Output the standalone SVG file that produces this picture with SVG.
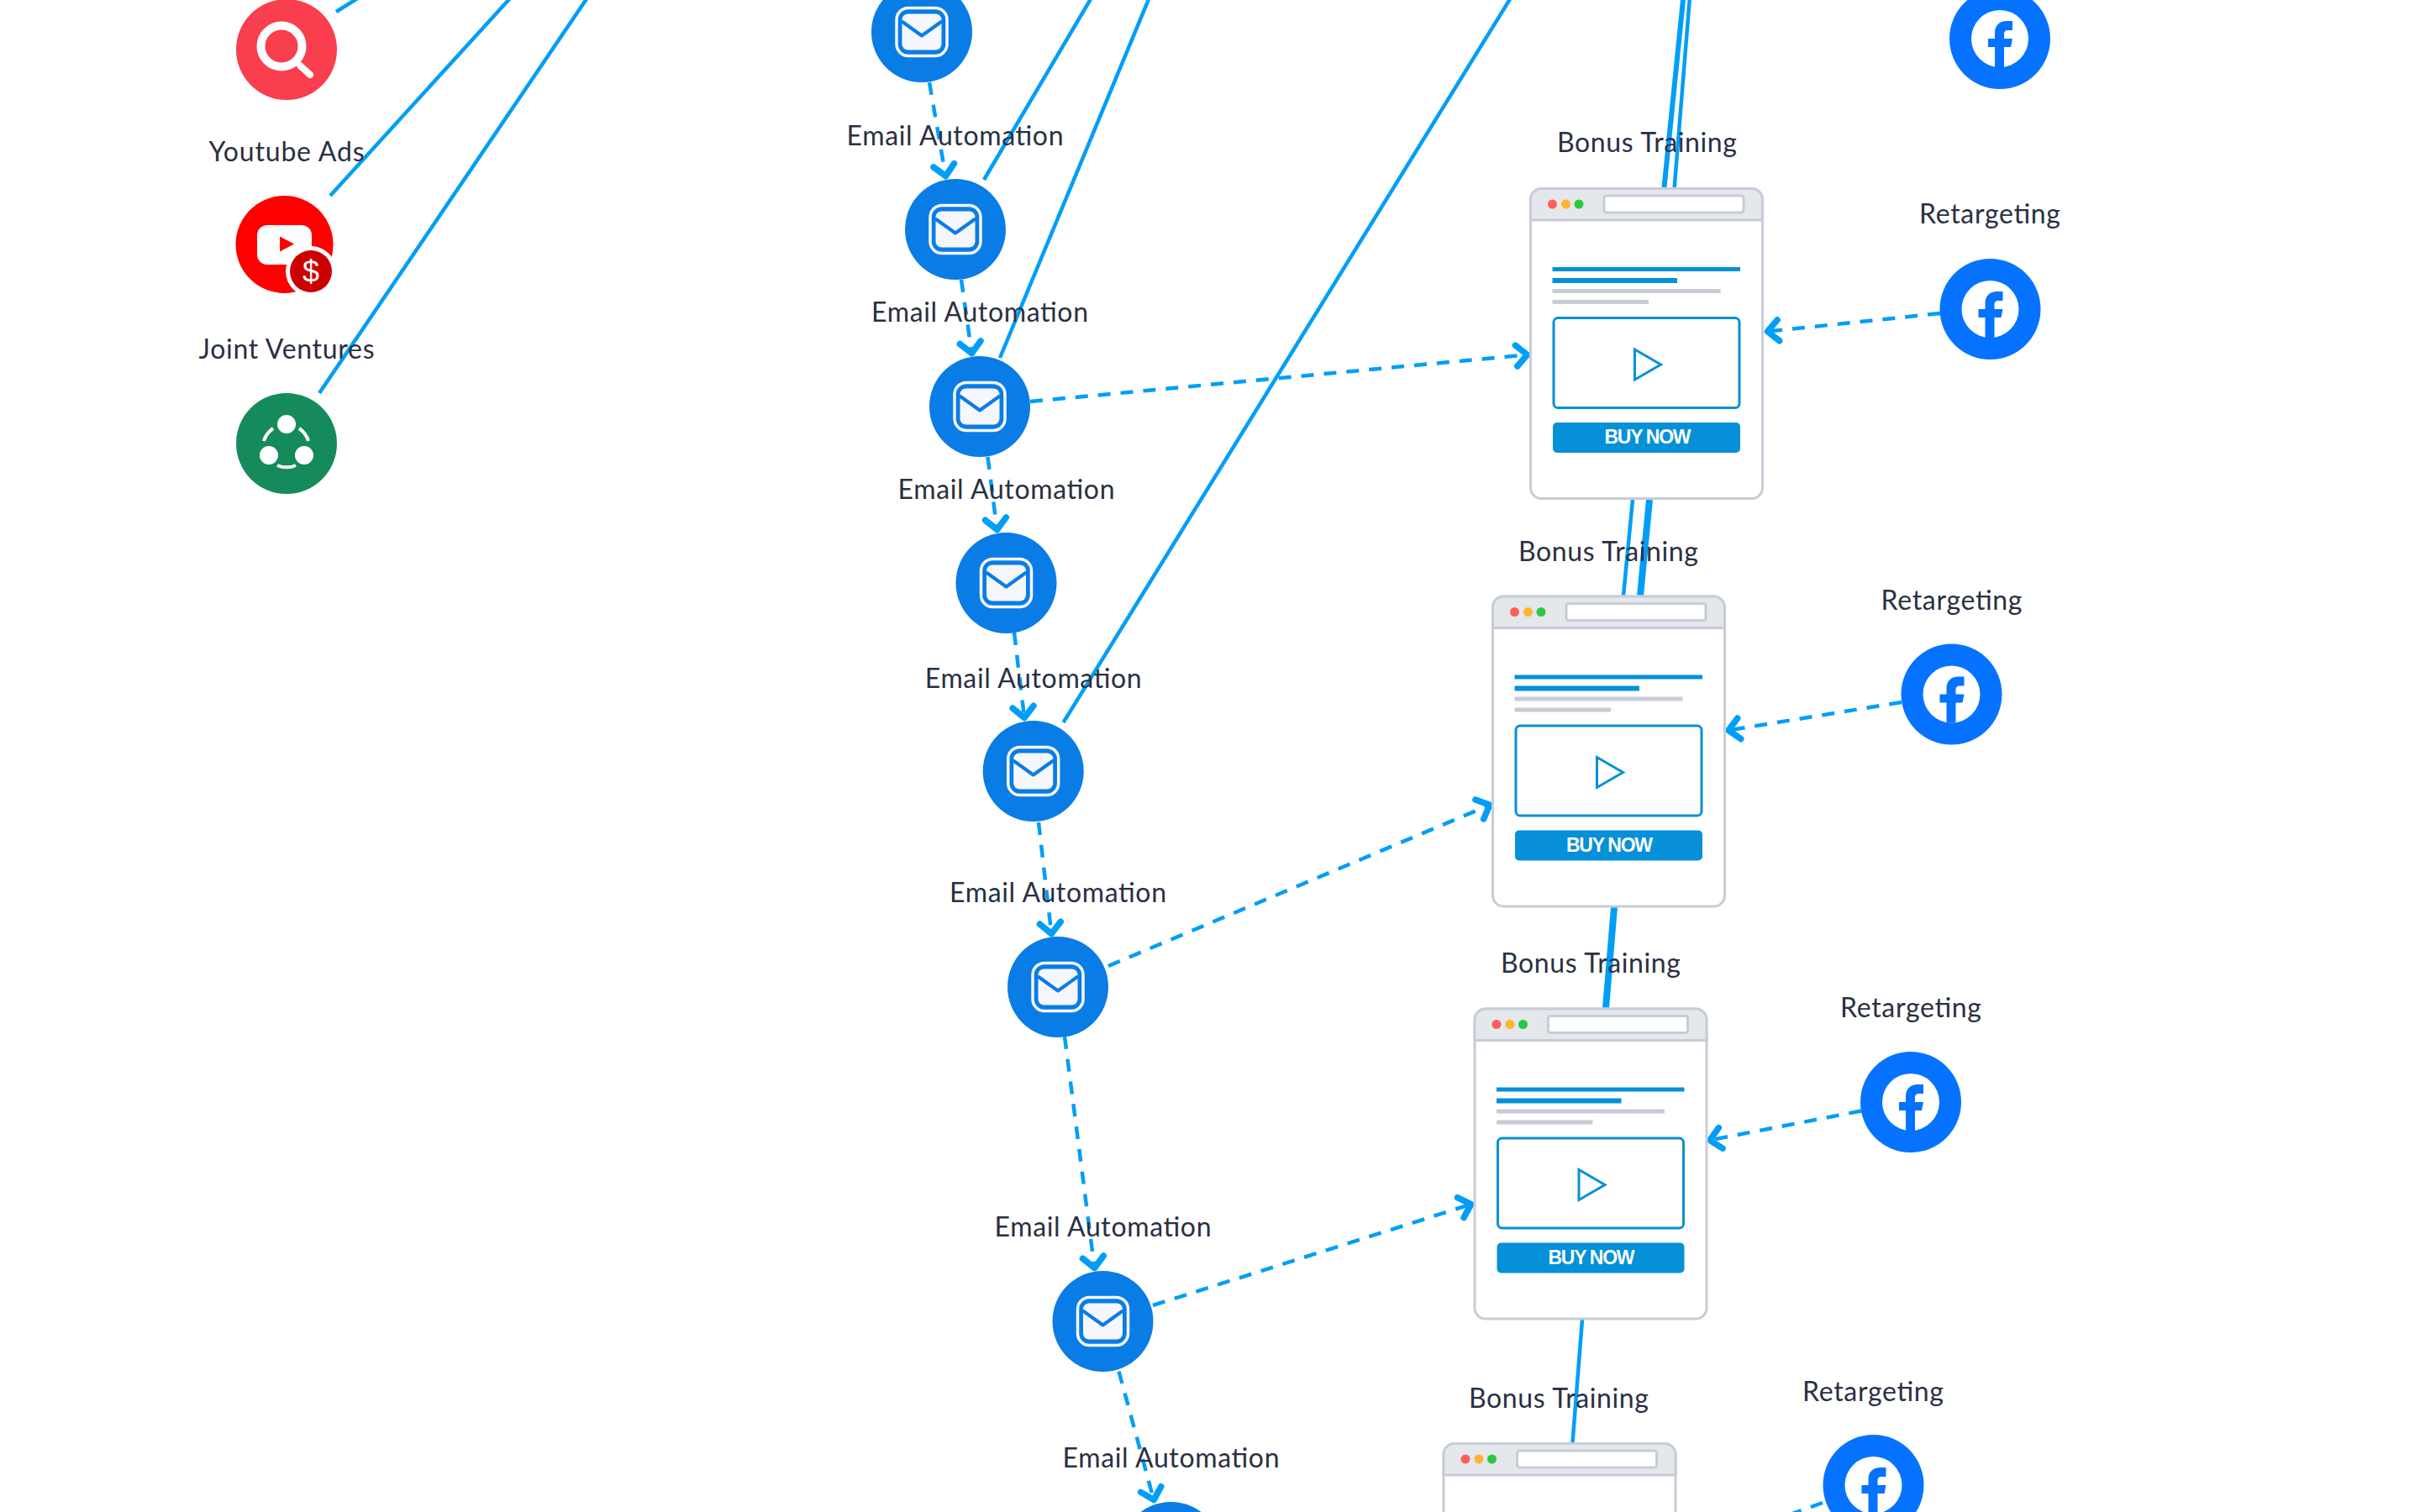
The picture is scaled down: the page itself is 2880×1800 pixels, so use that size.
<svg xmlns="http://www.w3.org/2000/svg" width="2880" height="1800" viewBox="0 0 2880 1800">
<style>
.bg{fill:#fff}
.lbl{font-family:"Lato","Liberation Sans",sans-serif;font-size:32px;fill:#2a3042;text-anchor:middle}
.buy{font-family:"Liberation Sans",Arial,sans-serif;font-size:23px;font-weight:700;fill:#fff;text-anchor:middle}
.solid{fill:none;stroke:#009ef7;stroke-width:4.5;stroke-linecap:butt}
.t6{stroke-width:6}
.t8{stroke-width:8}
.dash{fill:none;stroke:#009ef7;stroke-width:4.5;stroke-dasharray:15 12;marker-end:url(#chev)}
.mailc{fill:#0a7ce6}
.fbc{fill:#0573ff}
</style>
<defs>
<marker id="chev" markerUnits="userSpaceOnUse" orient="auto" refX="3.500" refY="0" markerWidth="44" markerHeight="44" viewBox="-22 -22 44 44">
<path d="M-13 -12.500L0 0L-13 12.500" fill="none" stroke="#009ef7" stroke-width="7.500" stroke-linecap="round" stroke-linejoin="round"/>
</marker>
<g id="mail">
<circle r="60" class="mailc"/>
<rect x="-30" y="-28.500" width="60" height="57" rx="14" fill="none" stroke="#f5f7fc" stroke-width="3.500"/>
<rect x="-23.500" y="-21.500" width="47" height="43" rx="7" fill="#f5f7fc"/>
<path d="M-23 -12L0 4.500L23 -12" fill="none" stroke="#0a7ce6" stroke-width="4" stroke-linecap="round" stroke-linejoin="round"/>
</g>
<g id="fb">
<circle r="60" class="fbc"/>
<circle r="34" fill="#fff"/>
<path d="M-6 34V10H-14V0H-6V-7C-6 -16 0 -21 8 -21H15V-10H10C6 -10 5 -8 5 -5V0H15L13 10H5V34Z" class="fbc"/>
</g>
<g id="page">
<rect x="1.500" y="1.500" width="276" height="369" rx="13" fill="#fff" stroke="#c8ccd6" stroke-width="3"/>
<path d="M1.500 39V14.500A13 13 0 0 1 14.500 1.500H264.500A13 13 0 0 1 277.500 14.500V39Z" fill="#e4e7eb" stroke="#c8ccd6" stroke-width="3"/>
<circle cx="27.500" cy="20" r="5.500" fill="#ff5f57"/>
<circle cx="43.500" cy="20" r="5.500" fill="#ffb52e"/>
<circle cx="59" cy="20" r="5.500" fill="#2ac93f"/>
<rect x="89" y="10" width="166" height="20" rx="3" fill="#fff" stroke="#c8ccd6" stroke-width="3"/>
<rect x="27.500" y="95" width="223.500" height="5" fill="#0590d8"/>
<rect x="27.500" y="108" width="148.500" height="6" fill="#0590d8"/>
<rect x="27.500" y="121" width="200" height="5" fill="#c8ccd6"/>
<rect x="27.500" y="134" width="114.500" height="5" fill="#c8ccd6"/>
<rect x="29" y="155.500" width="221" height="107" rx="5" fill="#fff" stroke="#0590d8" stroke-width="3"/>
<path d="M125.500 193L156.500 211L125.500 229Z" fill="#fff" stroke="#0590d8" stroke-width="3"/>
<rect x="28" y="280" width="223" height="36" rx="5" fill="#0590d8"/>
</g>
</defs>
<rect class="bg" width="2880" height="1800"/>
<g id="connectors">
<path class="solid" d="M400 14L440 -11"/>
<path class="solid" d="M393 233L617 -13"/>
<path class="solid" d="M380 468L706 -13"/>
<path class="solid" d="M1171 214L1305 -13"/>
<path class="solid" d="M1190 426L1372 -13"/>
<path class="solid" d="M1265.500 860L1805 -14"/>
<path class="solid t6" d="M1980.500 223L2004 -10"/>
<path class="solid" d="M1992.700 223L2011.500 -10"/>
<path class="solid" d="M1943 595L1932 709"/>
<path class="solid t8" d="M1963 595L1952 709"/>
<path class="solid t8" d="M1921 1080L1911 1200"/>
<path class="solid" d="M1883 1571L1871.500 1717"/>
<path class="dash" d="M1106 98L1126 213"/>
<path class="dash" d="M1144 333L1157 424"/>
<path class="dash" d="M1175.500 544L1187 634"/>
<path class="dash" d="M1207 753L1219.500 858"/>
<path class="dash" d="M1236 979L1251.700 1115"/>
<path class="dash" d="M1267 1234L1303 1513"/>
<path class="dash" d="M1331.500 1632.500L1374 1789"/>
<path class="dash" d="M1226 478L1821 422"/>
<path class="dash" d="M1319 1150L1776 957"/>
<path class="dash" d="M1372 1554L1754 1432.600"/>
<path class="dash" d="M2309 373L2100 395"/>
<path class="dash" d="M2263 836L2053.500 870"/>
<path class="dash" d="M2215 1322.500L2031.500 1358"/>
<path class="dash" d="M2169 1789L1995 1852"/>
</g>
<g id="search-ads">
<circle cx="341" cy="59" r="60" fill="#f93e4d"/>
<circle cx="335" cy="55" r="24.500" fill="none" stroke="#fff" stroke-width="10"/>
<path d="M357 78L369 89" stroke="#fff" stroke-width="8" stroke-linecap="round"/>
</g>
<g id="youtube-ads">
<text class="lbl" x="341" y="192" textLength="185">Youtube Ads</text>
<circle cx="338.500" cy="291" r="58" fill="#f00"/>
<rect x="306" y="268" width="65" height="47" rx="12" fill="#fff"/>
<path d="M333 281.500L350 290.500L333 299.500Z" fill="#f00"/>
<circle cx="370" cy="323" r="30" fill="#fff"/>
<circle cx="370" cy="323" r="25" fill="#c00"/>
<text x="370" y="336" font-family="Liberation Sans,sans-serif" font-size="36" fill="#fff" text-anchor="middle">$</text>
</g>
<g id="joint-ventures">
<text class="lbl" x="341" y="427" textLength="209">Joint Ventures</text>
<circle cx="341" cy="528" r="60" fill="#158b5c"/>
<circle cx="341" cy="505" r="11" fill="#fff"/>
<circle cx="320" cy="542" r="11" fill="#fff"/>
<circle cx="362" cy="542" r="11" fill="#fff"/>
<path d="M314 525A28 28 0 0 1 325 510M356 510A28 28 0 0 1 367 525M330 554A28 28 0 0 0 352 554" fill="none" stroke="#fff" stroke-width="4"/>
</g>
<g id="email-1"><use href="#mail" x="1097" y="38"/></g>
<g id="email-2"><text class="lbl" x="1136.500" y="173" textLength="258">Email Automation</text><use href="#mail" x="1137" y="273"/></g>
<g id="email-3"><text class="lbl" x="1166" y="383" textLength="258">Email Automation</text><use href="#mail" x="1166" y="484"/></g>
<g id="email-4"><text class="lbl" x="1197.500" y="594" textLength="258">Email Automation</text><use href="#mail" x="1197.500" y="694"/></g>
<g id="email-5"><text class="lbl" x="1229.700" y="819" textLength="258">Email Automation</text><use href="#mail" x="1229.700" y="918"/></g>
<g id="email-6"><text class="lbl" x="1259" y="1074" textLength="258">Email Automation</text><use href="#mail" x="1259" y="1175"/></g>
<g id="email-7"><text class="lbl" x="1312.500" y="1472" textLength="258">Email Automation</text><use href="#mail" x="1312.500" y="1573"/></g>
<g id="email-8"><text class="lbl" x="1393.500" y="1747" textLength="258">Email Automation</text><use href="#mail" x="1393.500" y="1848"/></g>
<g id="bonus-1"><text class="lbl" x="1960" y="181" textLength="214">Bonus Training</text><use href="#page" x="1820" y="223"/><text class="buy" x="1961" y="528" textLength="103">BUY NOW</text></g>
<g id="bonus-2"><text class="lbl" x="1914" y="667.500" textLength="214">Bonus Training</text><use href="#page" x="1775" y="708.500"/><text class="buy" x="1915.500" y="1014" textLength="103">BUY NOW</text></g>
<g id="bonus-3"><text class="lbl" x="1893" y="1158" textLength="214">Bonus Training</text><use href="#page" x="1753.500" y="1199.500"/><text class="buy" x="1894" y="1505" textLength="103">BUY NOW</text></g>
<g id="bonus-4"><text class="lbl" x="1855" y="1675.500" textLength="214">Bonus Training</text><use href="#page" x="1716.500" y="1717"/></g>
<g id="retarget-1"><use href="#fb" x="2380" y="46"/></g>
<g id="retarget-2"><text class="lbl" x="2368" y="266" textLength="168">Retargeting</text><use href="#fb" x="2368.500" y="368"/></g>
<g id="retarget-3"><text class="lbl" x="2322.500" y="725.500" textLength="168">Retargeting</text><use href="#fb" x="2322.500" y="826.500"/></g>
<g id="retarget-4"><text class="lbl" x="2274" y="1211" textLength="168">Retargeting</text><use href="#fb" x="2274" y="1312"/></g>
<g id="retarget-5"><text class="lbl" x="2229" y="1668" textLength="168">Retargeting</text><use href="#fb" x="2229.500" y="1768"/></g>
</svg>
